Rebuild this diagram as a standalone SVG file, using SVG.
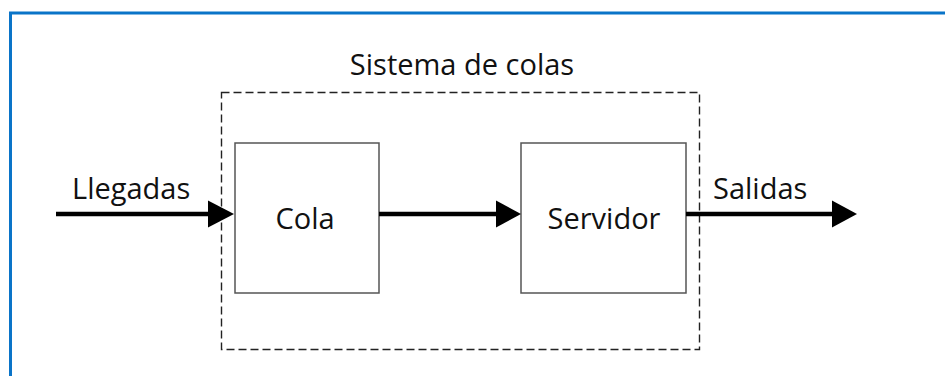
<svg xmlns="http://www.w3.org/2000/svg" width="945" height="376" viewBox="0 0 945 376">
  <style>
    text { font-family: "Open Sans", "Liberation Sans", sans-serif; font-size: 29px; fill: #111; }
    .box { fill: #fff; stroke: #555; stroke-width: 1.5; }
    .flow { stroke: #000; stroke-width: 4.5; fill: none; }
    .head { fill: #000; }
  </style>
  <rect width="945" height="376" fill="#fff"/>
  <g id="frame">
    <path d="M10.5 376 V13 H945" fill="none" stroke="#0a74c8" stroke-width="3"/>
  </g>
  <g id="sistema">
    <rect x="221.5" y="92.5" width="478" height="257" fill="none" stroke="#222" stroke-width="1.4" stroke-dasharray="8 4"/>
    <text x="462" y="75" text-anchor="middle">Sistema de colas</text>
  </g>
  <g id="cola">
    <rect class="box" x="235" y="143" width="144" height="150"/>
    <text x="305" y="229" text-anchor="middle">Cola</text>
  </g>
  <g id="servidor">
    <rect class="box" x="521" y="143" width="165" height="150"/>
    <text x="604" y="229" text-anchor="middle">Servidor</text>
  </g>
  <g id="connectors">
    <line class="flow" x1="56" y1="214" x2="210" y2="214"/>
    <polygon class="head" points="208,200.5 234,214 208,227.5"/>
    <text x="72" y="199">Llegadas</text>
    <line class="flow" x1="379" y1="214" x2="498" y2="214"/>
    <polygon class="head" points="496,200.5 521,214 496,227.5"/>
    <line class="flow" x1="686" y1="214" x2="834" y2="214"/>
    <polygon class="head" points="832,200.5 857,214 832,227.5"/>
    <text x="713" y="199">Salidas</text>
  </g>
</svg>
